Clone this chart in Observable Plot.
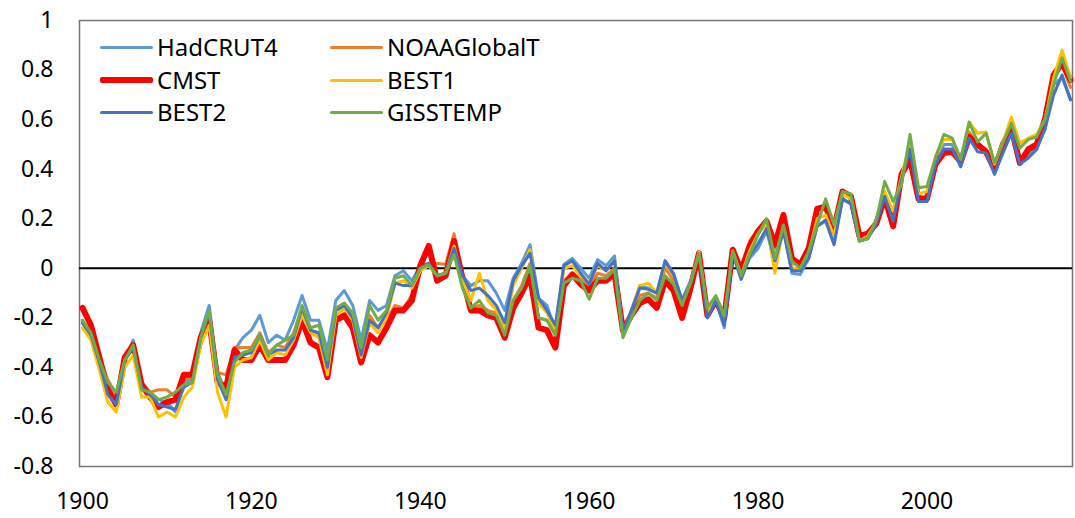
<!DOCTYPE html>
<html><head><meta charset="utf-8">
<script src="https://cdn.jsdelivr.net/npm/d3@7"></script>
<script src="https://cdn.jsdelivr.net/npm/@observablehq/plot@0.6"></script>
<style>
body{margin:0;background:#fff;}
#wrap{position:relative;width:1075px;height:518px;font-family:"Noto Sans",sans-serif;}
.leg{position:absolute;display:flex;align-items:center;font-size:24px;line-height:26px;color:#000;white-space:nowrap;}
.sw{width:53px;margin-right:4px;border-radius:2px;}
</style></head><body><div id="wrap"></div>
<script>
const firstYear = 1900;
const seriesNames = ["HadCRUT4","NOAAGlobalT","CMST","BEST1","BEST2","GISSTEMP"];
const seriesColors = ["#5B9BD5","#ED7D31","#FF0000","#FFC000","#4472C4","#70AD47"];
const xTicks = [1900,1920,1940,1960,1980,2000];
const yTicks = [-0.8,-0.6,-0.4,-0.2,0,0.2,0.4,0.6,0.8,1];

const hadcrut4 = [-0.21,-0.27,-0.37,-0.47,-0.53,-0.37,-0.29,-0.46,-0.50,-0.53,
-0.54,-0.58,-0.46,-0.45,-0.26,-0.15,-0.42,-0.50,-0.33,-0.28,
-0.25,-0.19,-0.30,-0.27,-0.29,-0.21,-0.11,-0.21,-0.21,-0.33,
-0.13,-0.09,-0.15,-0.29,-0.13,-0.17,-0.15,-0.03,-0.01,-0.05,
0.01,0.02,-0.03,-0.02,0.08,-0.03,-0.07,-0.05,-0.05,-0.10,
-0.17,-0.04,0.02,0.095,-0.12,-0.15,-0.25,0.015,0.04,0.00,
-0.04,0.035,0.01,0.05,-0.25,-0.17,-0.07,-0.08,-0.10,0.03,
-0.02,-0.13,-0.05,0.06,-0.20,-0.13,-0.24,0.06,-0.04,0.04,
0.08,0.15,0.03,0.16,-0.02,-0.025,0.04,0.17,0.19,0.10,
0.28,0.26,0.11,0.12,0.18,0.29,0.19,0.36,0.48,0.27,
0.27,0.41,0.50,0.50,0.41,0.54,0.49,0.48,0.38,0.47,
0.55,0.42,0.45,0.49,0.56,0.74,0.77,0.68];

const noaa = [-0.22,-0.27,-0.36,-0.45,-0.51,-0.36,-0.31,-0.46,-0.50,-0.49,
-0.49,-0.52,-0.45,-0.44,-0.27,-0.19,-0.42,-0.43,-0.32,-0.32,
-0.32,-0.26,-0.34,-0.31,-0.32,-0.26,-0.16,-0.25,-0.27,-0.40,
-0.19,-0.16,-0.21,-0.35,-0.19,-0.24,-0.21,-0.15,-0.16,-0.11,
0.00,0.01,0.02,0.015,0.14,-0.05,-0.16,-0.15,-0.17,-0.18,
-0.27,-0.13,-0.07,0.02,-0.20,-0.21,-0.27,-0.05,-0.02,-0.04,
-0.08,-0.02,-0.03,0.00,-0.26,-0.18,-0.11,-0.10,-0.12,0.00,
-0.05,-0.15,-0.06,0.06,-0.17,-0.12,-0.19,0.075,-0.02,0.11,
0.155,0.19,0.08,0.20,0.02,0.01,0.07,0.24,0.24,0.16,
0.31,0.29,0.13,0.14,0.19,0.30,0.20,0.38,0.48,0.29,
0.29,0.43,0.48,0.48,0.43,0.55,0.50,0.48,0.40,0.50,
0.57,0.44,0.47,0.50,0.59,0.76,0.82,0.73];

const cmst = [-0.16,-0.23,-0.36,-0.49,-0.55,-0.36,-0.31,-0.47,-0.52,-0.56,
-0.54,-0.53,-0.43,-0.43,-0.28,-0.21,-0.46,-0.48,-0.33,-0.37,
-0.37,-0.31,-0.37,-0.37,-0.37,-0.31,-0.21,-0.30,-0.32,-0.44,
-0.21,-0.19,-0.24,-0.38,-0.27,-0.30,-0.24,-0.17,-0.17,-0.13,
0.01,0.09,-0.05,-0.03,0.11,-0.04,-0.17,-0.17,-0.19,-0.20,
-0.28,-0.16,-0.10,-0.03,-0.24,-0.25,-0.32,-0.07,-0.025,-0.065,
-0.09,-0.05,-0.05,-0.02,-0.25,-0.19,-0.14,-0.125,-0.16,-0.05,
-0.09,-0.20,-0.08,0.06,-0.19,-0.13,-0.20,0.075,-0.01,0.09,
0.15,0.19,0.095,0.215,0.04,0.015,0.08,0.24,0.25,0.16,
0.31,0.29,0.13,0.14,0.18,0.285,0.17,0.38,0.44,0.28,
0.28,0.42,0.465,0.47,0.43,0.53,0.50,0.47,0.40,0.50,
0.565,0.425,0.48,0.50,0.605,0.78,0.83,0.76];

const best1 = [-0.24,-0.29,-0.41,-0.54,-0.58,-0.40,-0.35,-0.52,-0.52,-0.60,
-0.58,-0.60,-0.52,-0.48,-0.31,-0.23,-0.50,-0.60,-0.40,-0.37,
-0.36,-0.29,-0.37,-0.34,-0.35,-0.29,-0.19,-0.26,-0.28,-0.43,
-0.19,-0.16,-0.21,-0.36,-0.22,-0.26,-0.20,-0.06,-0.05,-0.08,
-0.01,0.01,-0.03,-0.02,0.09,-0.05,-0.13,-0.02,-0.13,-0.17,
-0.25,-0.07,0.00,0.075,-0.14,-0.18,-0.25,0.00,0.01,-0.03,
-0.06,0.01,-0.01,0.03,-0.26,-0.17,-0.07,-0.06,-0.10,0.02,
-0.03,-0.14,-0.06,0.065,-0.18,-0.12,-0.21,0.07,-0.03,0.07,
0.14,0.18,-0.02,0.17,0.00,0.00,0.06,0.20,0.215,0.13,
0.30,0.28,0.11,0.13,0.19,0.31,0.23,0.37,0.51,0.30,
0.31,0.45,0.52,0.52,0.44,0.59,0.545,0.55,0.42,0.51,
0.61,0.505,0.525,0.54,0.60,0.77,0.88,0.77];

const best2 = [-0.22,-0.27,-0.38,-0.51,-0.55,-0.37,-0.32,-0.48,-0.51,-0.55,
-0.56,-0.57,-0.48,-0.46,-0.28,-0.18,-0.45,-0.53,-0.36,-0.35,
-0.34,-0.27,-0.35,-0.33,-0.33,-0.28,-0.16,-0.25,-0.26,-0.40,
-0.17,-0.15,-0.20,-0.35,-0.21,-0.24,-0.18,-0.06,-0.07,-0.07,
0.00,0.02,-0.03,-0.02,0.08,-0.03,-0.09,-0.08,-0.11,-0.15,
-0.22,-0.05,0.01,0.06,-0.12,-0.17,-0.23,0.01,0.03,-0.02,
-0.065,0.02,-0.01,0.03,-0.26,-0.17,-0.08,-0.085,-0.10,0.03,
-0.025,-0.13,-0.06,0.06,-0.20,-0.13,-0.23,0.06,-0.045,0.05,
0.10,0.16,0.03,0.15,-0.01,-0.01,0.04,0.17,0.195,0.095,
0.28,0.26,0.11,0.12,0.18,0.29,0.19,0.36,0.48,0.27,
0.27,0.42,0.48,0.48,0.41,0.525,0.47,0.465,0.38,0.465,
0.545,0.42,0.445,0.48,0.565,0.70,0.78,0.68];

const gisstemp = [-0.21,-0.26,-0.37,-0.46,-0.50,-0.37,-0.31,-0.49,-0.50,-0.53,
-0.52,-0.50,-0.47,-0.46,-0.28,-0.17,-0.43,-0.51,-0.38,-0.34,
-0.33,-0.27,-0.35,-0.31,-0.29,-0.27,-0.15,-0.24,-0.23,-0.37,
-0.16,-0.14,-0.18,-0.32,-0.15,-0.21,-0.17,-0.04,-0.03,-0.07,
0.00,0.015,-0.03,-0.02,0.055,-0.08,-0.16,-0.13,-0.18,-0.19,
-0.27,-0.13,-0.08,0.01,-0.20,-0.21,-0.27,-0.06,-0.04,-0.05,
-0.125,-0.04,-0.04,-0.005,-0.28,-0.20,-0.13,-0.10,-0.13,-0.03,
-0.065,-0.15,-0.06,0.06,-0.16,-0.11,-0.19,0.07,-0.03,0.055,
0.135,0.20,0.04,0.175,0.03,0.00,0.07,0.175,0.28,0.175,
0.31,0.30,0.11,0.12,0.195,0.35,0.27,0.34,0.54,0.325,
0.33,0.445,0.54,0.525,0.44,0.59,0.51,0.545,0.425,0.505,
0.585,0.485,0.52,0.53,0.605,0.74,0.85,0.755];

const seriesValues = [hadcrut4, noaa, cmst, best1, best2, gisstemp];
const seriesWidths = [3, 3, 6, 3, 3, 3];

const lineMarks = seriesValues.map((vals, k) => {
  const rows = vals.map((v, i) => ({year: firstYear + i, value: v}));
  return Plot.line(rows, {x: "year", y: "value", stroke: seriesColors[k], strokeWidth: seriesWidths[k], strokeLinejoin: "round", strokeLinecap: "round"});
});

const chart = Plot.plot({
  width: 1075, height: 518,
  marginLeft: 82, marginRight: 5, marginTop: 20, marginBottom: 52,
  style: {fontFamily: "'Noto Sans', sans-serif", fontSize: "23px", color: "#000", background: "#fff", overflow: "visible"},
  x: {domain: [1900, 2017], ticks: xTicks, tickFormat: d => String(d), tickSize: 0, tickPadding: 26, label: null},
  y: {domain: [-0.8, 1], ticks: yTicks, tickFormat: d => String(+d.toFixed(1)), tickSize: 0, tickPadding: 29, label: null},
  marks: [
    Plot.frame({stroke: "#767676", strokeWidth: 1.5, insetLeft: -3, insetRight: -2}),
    Plot.ruleY([0], {stroke: "#000", strokeWidth: 2, insetLeft: -3, insetRight: -2}),
    ...lineMarks
  ]
});
const wrap = document.getElementById("wrap");
wrap.appendChild(chart);

const legendPos = [[100, 34], [330, 34], [100, 67], [330, 67], [100, 99], [330, 99]];
seriesNames.forEach((name, k) => {
  const d = document.createElement("div");
  d.className = "leg";
  d.style.left = legendPos[k][0] + "px";
  d.style.top = legendPos[k][1] + "px";
  const sw = document.createElement("div");
  sw.className = "sw";
  sw.style.height = seriesWidths[k] + "px";
  sw.style.background = seriesColors[k];
  d.appendChild(sw);
  const t = document.createElement("span");
  t.textContent = name;
  d.appendChild(t);
  wrap.appendChild(d);
});
</script></body></html>
